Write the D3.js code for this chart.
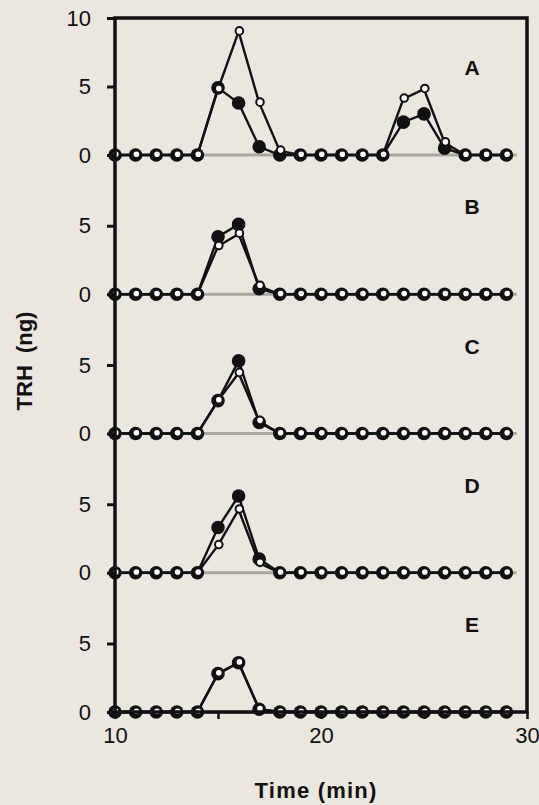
<!DOCTYPE html>
<style>
  body { margin: 0; background: #ebe6de; }
  svg { display: block; font-family: "Liberation Sans", Arial, sans-serif; }
  .axis .domain { display: none; }
</style>
<svg width="539" height="805"></svg>
<script src="https://d3js.org/d3.v7.min.js"></script>
<script>
  // time points (min)
  var times = [10, 11, 12, 13, 14, 15, 16, 17, 18, 19, 20, 21, 22, 23, 24, 25, 26, 27, 28, 29];
  var panels = ["A", "B", "C", "D", "E"];

  // closed circles
  var filledA = [0, 0, 0, 0, 0, 4.9, 3.8, 0.6, 0, 0, 0, 0, 0, 0, 2.4, 3.0, 0.5, 0, 0, 0];
  var filledB = [0, 0, 0, 0, 0, 4.2, 5.1, 0.4, 0, 0, 0, 0, 0, 0, 0, 0, 0, 0, 0, 0];
  var filledC = [0, 0, 0, 0, 0, 2.4, 5.3, 0.8, 0, 0, 0, 0, 0, 0, 0, 0, 0, 0, 0, 0];
  var filledD = [0, 0, 0, 0, 0, 3.3, 5.6, 1.0, 0, 0, 0, 0, 0, 0, 0, 0, 0, 0, 0, 0];
  var filledE = [0, 0, 0, 0, 0, 2.8, 3.6, 0.2, 0, 0, 0, 0, 0, 0, 0, 0, 0, 0, 0, 0];

  // open circles
  var openA = [0, 0, 0, 0, 0, 4.8, 9.0, 3.8, 0.3, 0, 0, 0, 0, 0, 4.1, 4.8, 0.9, 0, 0, 0];
  var openB = [0, 0, 0, 0, 0, 3.5, 4.4, 0.6, 0, 0, 0, 0, 0, 0, 0, 0, 0, 0, 0, 0];
  var openC = [0, 0, 0, 0, 0, 2.4, 4.4, 0.9, 0, 0, 0, 0, 0, 0, 0, 0, 0, 0, 0, 0];
  var openD = [0, 0, 0, 0, 0, 2.0, 4.6, 0.7, 0, 0, 0, 0, 0, 0, 0, 0, 0, 0, 0, 0];
  var openE = [0, 0, 0, 0, 0, 2.8, 3.6, 0.2, 0, 0, 0, 0, 0, 0, 0, 0, 0, 0, 0, 0];

  var filled = [filledA, filledB, filledC, filledD, filledE];
  var open = [openA, openB, openC, openD, openE];

  var xTicks = [10, 15, 20, 25, 30];
  var xLabels = [10, 20, 30];

  var svg = d3.select("svg");
  var plotLeft = 115, plotRight = 527, plotTop = 18, plotBottom = 712;
  var firstBase = 155, step = (plotBottom - firstBase) / 4;

  var x = d3.scaleLinear().domain([10, 30]).range([plotLeft, plotRight]);

  // one y scale per panel, all the same height per unit
  function yScale(i) {
    var base = firstBase + i * step;
    return d3.scaleLinear().domain([0, 10]).range([base, base - 137]);
  }

  // panels
  panels.forEach(function(name, i) {
    var y = yScale(i);
    var g = svg.append("g");

    // grey zero line
    g.append("line")
      .attr("x1", x(10)).attr("x2", x(29.5))
      .attr("y1", y(0)).attr("y2", y(0))
      .attr("stroke", "#aaa7a2").attr("stroke-width", 3);

    var line = d3.line()
      .x(function(d, j) { return x(times[j]); })
      .y(function(d) { return y(d); });

    g.append("path").datum(filled[i])
      .attr("d", line).attr("fill", "none")
      .attr("stroke", "#111").attr("stroke-width", 2.4);
    g.append("path").datum(open[i])
      .attr("d", line).attr("fill", "none")
      .attr("stroke", "#111").attr("stroke-width", 2.4);

    g.selectAll(".dot-f").data(filled[i]).enter().append("circle")
      .attr("cx", function(d, j) { return x(times[j]); })
      .attr("cy", function(d) { return y(d); })
      .attr("r", 6.8).attr("fill", "#111");

    g.selectAll(".dot-o").data(open[i]).enter().append("circle")
      .attr("cx", function(d, j) { return x(times[j]) + 0.8; })
      .attr("cy", function(d) { return y(d) - 0.8; })
      .attr("r", 3.8).attr("fill", "#fff")
      .attr("stroke", "#111").attr("stroke-width", 2);

    // left ticks
    g.append("g")
      .attr("class", "axis")
      .attr("transform", "translate(" + plotLeft + ",0)")
      .call(d3.axisLeft(y).tickValues(i === 0 ? [0, 5, 10] : [0, 5])
        .tickSize(8).tickPadding(16).tickFormat(d3.format("d")))
      .call(function(a) {
        a.selectAll("line").attr("stroke", "#111").attr("stroke-width", 3);
        a.selectAll("text").attr("font-size", 22).attr("fill", "#111");
      });

    // panel letter
    g.append("text")
      .attr("x", 472).attr("y", y(0) - 80)
      .attr("text-anchor", "middle")
      .attr("font-size", 21).attr("font-weight", "bold")
      .attr("fill", "#111")
      .text(name);
  });

  // x axis
  svg.append("g")
    .attr("class", "axis")
    .attr("transform", "translate(0," + plotBottom + ")")
    .call(d3.axisBottom(x).tickValues(xTicks).tickSize(7).tickPadding(8)
      .tickFormat(function(d) { return xLabels.indexOf(d) >= 0 ? d : ""; }))
    .call(function(a) {
      a.selectAll("line").attr("stroke", "#111").attr("stroke-width", 2.5);
      a.selectAll("text").attr("font-size", 22).attr("fill", "#111");
    });

  // frame
  svg.append("rect")
    .attr("x", plotLeft).attr("y", plotTop)
    .attr("width", plotRight - plotLeft).attr("height", plotBottom - plotTop)
    .attr("fill", "none").attr("stroke", "#111").attr("stroke-width", 3.5);

  // axis titles
  svg.append("text")
    .attr("transform", "translate(32,361) rotate(-90)")
    .attr("text-anchor", "middle")
    .attr("font-size", 22).attr("font-weight", "bold")
    .attr("word-spacing", 6).attr("fill", "#111")
    .text("TRH (ng)");

  svg.append("text")
    .attr("x", 316).attr("y", 798)
    .attr("text-anchor", "middle")
    .attr("font-size", 22).attr("font-weight", "bold")
    .attr("letter-spacing", 1.2).attr("fill", "#111")
    .text("Time (min)");
</script>
